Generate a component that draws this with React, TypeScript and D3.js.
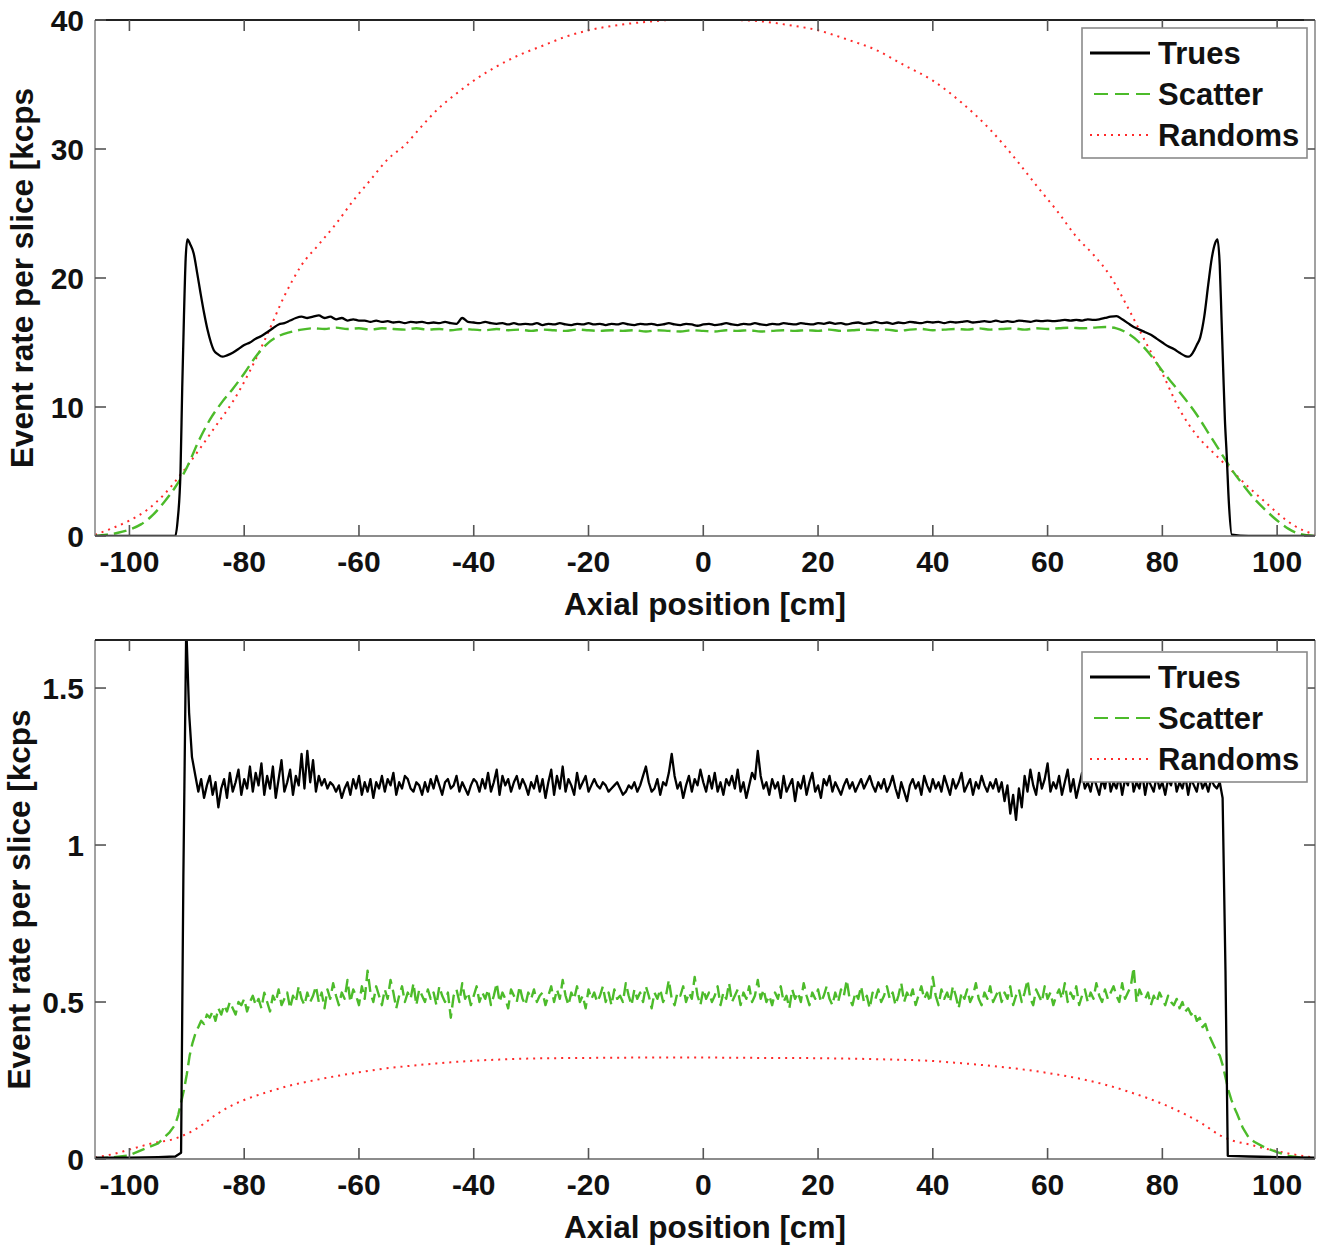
import React from 'react';
import * as d3 from 'd3';

// ---------- data ----------
const X_DOMAIN: [number, number] = [-106, 106.6];
const X_TICKS = [-100, -80, -60, -40, -20, 0, 20, 40, 60, 80, 100];
const TOP_Y_TICKS = [0, 10, 20, 30, 40];
const BOTTOM_Y_TICKS = [0, 0.5, 1, 1.5];
const SERIES_NAMES = ['Trues', 'Scatter', 'Randoms'];
const X_LABEL = 'Axial position [cm]';
const Y_LABEL = 'Event rate per slice [kcps';

// top panel
const TOP_TRUES_LEFT: [number, number][] = [
  [-106, 0], [-100, 0], [-95, 0], [-92, 0], [-91.6, 1.2], [-91.1, 5], [-90.8, 11.5], [-90.5, 17],
  [-90.2, 21.5], [-89.9, 23], [-89.4, 22.6], [-88.8, 21.9], [-88.2, 20.4], [-87.6, 18.8], [-87, 17.3],
  [-86.4, 16], [-85.8, 15], [-85.3, 14.4], [-84.6, 14.1], [-83.8, 13.9], [-83, 14.0], [-82, 14.2],
  [-81, 14.5], [-80, 14.8], [-79, 15.0], [-78, 15.3], [-77, 15.5], [-76, 15.8], [-75, 16.1], [-74, 16.4],
  [-73, 16.5], [-72, 16.7], [-71, 16.9], [-70, 17.0], [-69, 16.9], [-68, 17.0], [-67, 17.1], [-66, 16.9],
  [-65, 17.0], [-64, 16.8], [-63, 16.9], [-62, 16.7], [-61, 16.8], [-60, 16.7],
];
// one value per cm, -59 … 68
const TOP_TRUES_PLATEAU = [
  16.7, 16.6, 16.7, 16.6, 16.65, 16.55, 16.6, 16.5, 16.6, 16.55, 16.6, 16.5, 16.55, 16.5, 16.6, 16.5, 16.45, 16.9, 16.6,
  16.55, 16.5, 16.6, 16.5, 16.45, 16.5, 16.4, 16.5, 16.4, 16.45, 16.4, 16.5, 16.35, 16.45, 16.4, 16.5, 16.4, 16.35, 16.45, 16.4,
  16.5, 16.4, 16.45, 16.35, 16.45, 16.4, 16.5, 16.4, 16.35, 16.45, 16.4, 16.45, 16.35, 16.4, 16.5, 16.4, 16.35, 16.45, 16.4, 16.3,
  16.4, 16.45, 16.35, 16.4, 16.5, 16.4, 16.35, 16.45, 16.4, 16.5, 16.4, 16.35, 16.45, 16.4, 16.5, 16.45, 16.4, 16.5, 16.45, 16.4,
  16.5, 16.45, 16.55, 16.45, 16.5, 16.4, 16.5, 16.55, 16.45, 16.5, 16.6, 16.5, 16.55, 16.45, 16.55, 16.5, 16.6, 16.55, 16.5, 16.6,
  16.55, 16.6, 16.5, 16.6, 16.55, 16.6, 16.65, 16.55, 16.6, 16.65, 16.6, 16.7, 16.6, 16.65, 16.6, 16.7, 16.65, 16.6, 16.7, 16.65,
  16.7, 16.65, 16.7, 16.75, 16.7, 16.75, 16.7, 16.8, 16.75,
];
const TOP_TRUES_RIGHT: [number, number][] = [
  [69, 16.8], [70, 16.9], [71, 17.0], [72, 17.05], [73, 16.8], [74, 16.5], [75, 16.2], [76, 16.0], [77, 15.8],
  [78, 15.6], [79, 15.3], [80, 15.0], [81, 14.7], [82, 14.5], [83, 14.2], [84, 13.95], [84.6, 13.9], [85.3, 14.2],
  [86, 14.8], [86.6, 15.4], [87.3, 17.0], [88, 19.5], [88.6, 21.5], [89.2, 22.7], [89.6, 23], [90, 21],
  [90.3, 17], [90.6, 12.9], [90.9, 9], [91.2, 6.4], [91.6, 2.5], [92.1, 0.1], [95, 0], [100, 0], [106.6, 0],
];
const TOP_SCATTER: [number, number][] = [
  [-106, 0], [-104, 0.1], [-102, 0.25], [-100, 0.5], [-98, 0.9], [-96, 1.6], [-94, 2.6], [-92, 3.8], [-90, 5.3],
  [-88, 7.3], [-86, 9], [-84, 10.3], [-82, 11.4], [-80, 12.6], [-78, 13.9], [-76, 14.9], [-74, 15.5], [-72, 15.8],
  [-70, 16.0], [-68, 16.1], [-66, 16.05], [-64, 16.15], [-62, 16.05], [-60, 16.1], [-58, 16.0], [-56, 16.1],
  [-54, 16.05], [-52, 16.0], [-50, 16.1], [-48, 16.0], [-46, 16.05], [-44, 15.95], [-42, 16.05], [-40, 16.0],
  [-38, 15.95], [-36, 16.05], [-34, 15.95], [-32, 16.0], [-30, 15.9], [-28, 16.0], [-26, 15.95], [-24, 15.9],
  [-22, 16.0], [-20, 15.95], [-18, 15.9], [-16, 15.95], [-14, 15.9], [-12, 15.95], [-10, 15.85], [-8, 15.95],
  [-6, 15.9], [-4, 15.85], [-2, 15.95], [0, 15.9], [2, 15.85], [4, 15.95], [6, 15.9], [8, 15.95], [10, 15.85],
  [12, 15.9], [14, 15.95], [16, 15.9], [18, 15.95], [20, 15.9], [22, 16.0], [24, 15.9], [26, 15.95], [28, 16.0],
  [30, 15.95], [32, 16.0], [34, 15.9], [36, 16.0], [38, 16.05], [40, 15.95], [42, 16.0], [44, 16.05], [46, 16.0],
  [48, 16.1], [50, 16.0], [52, 16.05], [54, 16.1], [56, 16.0], [58, 16.1], [60, 16.05], [62, 16.1], [64, 16.15],
  [66, 16.1], [68, 16.15], [70, 16.2], [72, 16.1], [74, 15.7], [76, 15.0], [78, 14.0], [80, 12.8], [82, 11.7],
  [84, 10.6], [86, 9.4], [88, 8.0], [90, 6.6], [92, 5.2], [94, 4.0], [96, 2.9], [98, 2.0], [100, 1.2], [102, 0.55],
  [104, 0.15], [106.6, 0],
];
const TOP_RANDOMS: [number, number][] = [
  [-106, 0.1], [-103, 0.6], [-100, 1.2], [-97, 2.0], [-94, 3.2], [-91, 4.8], [-88, 6.6], [-85, 8.5], [-82, 10.4],
  [-79, 12.8], [-76, 15.6], [-73, 18.6], [-70, 21], [-67, 22.6], [-64, 24.2], [-61, 26], [-58, 27.6], [-55, 29.2],
  [-52, 30.3], [-49, 31.8], [-46, 33.2], [-43, 34.3], [-40, 35.3], [-36, 36.4], [-32, 37.3], [-28, 38], [-24, 38.7],
  [-20, 39.2], [-15, 39.6], [-10, 39.85], [-5, 40], [0, 40], [5, 40], [10, 39.9], [15, 39.6], [20, 39.2], [25, 38.5],
  [30, 37.7], [35, 36.5], [40, 35.3], [45, 33.6], [50, 31.5], [55, 28.9], [58, 27.2], [62, 25], [65, 23.2],
  [68, 21.8], [71, 20.1], [74, 17.7], [77, 15.1], [80, 12.6], [83, 9.8], [86, 7.8], [89, 6.4], [92, 5.1],
  [95, 3.8], [98, 2.6], [100, 1.8], [103, 0.8], [106.6, 0.1],
];

// bottom panel
const BOTTOM_TRUES_LEFT: [number, number][] = [
  [-106, 0.004], [-100, 0.004], [-95, 0.006], [-92, 0.008], [-91, 0.02], [-90.6, 0.9], [-90.1, 1.7],
  [-89.6, 1.42], [-89.1, 1.28],
];
// one value per half cm, -88.5 … 90.5
const BOTTOM_TRUES_PLATEAU = [
  1.22, 1.17, 1.21, 1.15, 1.19, 1.22, 1.16, 1.20, 1.12, 1.18, 1.21, 1.15, 1.23, 1.17, 1.20, 1.24, 1.16, 1.21, 1.18, 1.25,
  1.17, 1.23, 1.19, 1.26, 1.16, 1.22, 1.18, 1.25, 1.15, 1.21, 1.27, 1.17, 1.20, 1.24, 1.16, 1.22, 1.19, 1.29, 1.18, 1.30,
  1.20, 1.27, 1.17, 1.22, 1.19, 1.21, 1.18, 1.20, 1.19, 1.17, 1.19, 1.15, 1.18, 1.20, 1.16, 1.21, 1.18, 1.22, 1.16, 1.20,
  1.17, 1.21, 1.15, 1.20, 1.18, 1.22, 1.17, 1.21, 1.19, 1.23, 1.16, 1.20, 1.18, 1.22, 1.21, 1.18, 1.17, 1.20, 1.19, 1.16,
  1.20, 1.17, 1.21, 1.18, 1.22, 1.19, 1.16, 1.20, 1.21, 1.18, 1.19, 1.22, 1.17, 1.20, 1.18, 1.16, 1.19, 1.21, 1.20, 1.17,
  1.21, 1.18, 1.23, 1.17, 1.20, 1.24, 1.16, 1.22, 1.19, 1.21, 1.17, 1.20, 1.22, 1.18, 1.21, 1.19, 1.16, 1.20, 1.18, 1.22,
  1.17, 1.21, 1.15, 1.20, 1.24, 1.16, 1.22, 1.18, 1.25, 1.17, 1.21, 1.19, 1.16, 1.23, 1.18, 1.20, 1.22, 1.17, 1.19, 1.21,
  1.19, 1.18, 1.20, 1.19, 1.17, 1.18, 1.19, 1.20, 1.18, 1.16, 1.17, 1.19, 1.18, 1.20, 1.17, 1.19, 1.22, 1.25, 1.20, 1.17,
  1.18, 1.21, 1.16, 1.20, 1.19, 1.23, 1.29, 1.22, 1.18, 1.20, 1.15, 1.19, 1.22, 1.17, 1.21, 1.19, 1.24, 1.20, 1.17, 1.22,
  1.18, 1.23, 1.17, 1.20, 1.16, 1.21, 1.19, 1.22, 1.18, 1.24, 1.17, 1.20, 1.15, 1.19, 1.23, 1.21, 1.30, 1.22, 1.18, 1.20,
  1.16, 1.21, 1.18, 1.20, 1.15, 1.22, 1.17, 1.19, 1.21, 1.14, 1.20, 1.18, 1.22, 1.16, 1.20, 1.23, 1.17, 1.19, 1.15, 1.21,
  1.19, 1.22, 1.17, 1.20, 1.18, 1.16, 1.19, 1.21, 1.18, 1.20, 1.17, 1.19, 1.21, 1.18, 1.20, 1.22, 1.19, 1.17, 1.20, 1.18,
  1.21, 1.17, 1.19, 1.22, 1.18, 1.15, 1.20, 1.17, 1.14, 1.19, 1.21, 1.18, 1.20, 1.16, 1.22, 1.19, 1.17, 1.21, 1.18, 1.20,
  1.17, 1.22, 1.19, 1.16, 1.21, 1.18, 1.20, 1.23, 1.17, 1.19, 1.21, 1.16, 1.20, 1.18, 1.22, 1.19, 1.17, 1.20, 1.18, 1.21,
  1.17, 1.20, 1.14, 1.19, 1.10, 1.16, 1.08, 1.18, 1.12, 1.22, 1.17, 1.24, 1.19, 1.16, 1.23, 1.18, 1.21, 1.26, 1.17, 1.20,
  1.18, 1.22, 1.16, 1.20, 1.24, 1.17, 1.21, 1.15, 1.19, 1.23, 1.18, 1.20, 1.17, 1.22, 1.19, 1.16, 1.21, 1.18, 1.24, 1.17,
  1.20, 1.18, 1.22, 1.16, 1.21, 1.19, 1.25, 1.17, 1.20, 1.18, 1.23, 1.16, 1.21, 1.19, 1.17, 1.22, 1.18, 1.20, 1.16, 1.21,
  1.19, 1.23, 1.17, 1.20, 1.18, 1.22, 1.16, 1.21, 1.19, 1.17, 1.22, 1.18, 1.20, 1.17, 1.21, 1.19, 1.18, 1.20, 1.15,
];
const BOTTOM_TRUES_RIGHT: [number, number][] = [
  [91.0, 0.6], [91.4, 0.01], [95, 0.008], [100, 0.006], [106.6, 0.004],
];
const BOTTOM_SCATTER_LEFT: [number, number][] = [
  [-106, 0], [-103, 0.005], [-100, 0.012], [-97, 0.035], [-95, 0.05], [-93, 0.085], [-92, 0.11], [-91.5, 0.14],
  [-91, 0.18], [-90.5, 0.22], [-90, 0.27], [-89.5, 0.33], [-89, 0.37], [-88.5, 0.40],
];
// one value per half cm, -88.0 … 88.0
const BOTTOM_SCATTER_PLATEAU = [
  0.42, 0.44, 0.43, 0.46, 0.45, 0.47, 0.44, 0.48, 0.46, 0.49, 0.47, 0.50, 0.48, 0.46, 0.50, 0.49, 0.51, 0.47, 0.50, 0.52,
  0.49, 0.51, 0.48, 0.53, 0.50, 0.47, 0.52, 0.50, 0.54, 0.49, 0.51, 0.53, 0.48, 0.52, 0.50, 0.55, 0.51, 0.49, 0.53, 0.50,
  0.52, 0.55, 0.50, 0.53, 0.48, 0.54, 0.51, 0.56, 0.52, 0.49, 0.53, 0.51, 0.57, 0.50, 0.54, 0.52, 0.49, 0.55, 0.51, 0.60,
  0.53, 0.50, 0.55, 0.52, 0.49, 0.54, 0.51, 0.57, 0.53, 0.48, 0.52, 0.55, 0.50, 0.53, 0.51, 0.56, 0.49, 0.54, 0.52, 0.50,
  0.54, 0.51, 0.53, 0.49, 0.55, 0.52, 0.50, 0.53, 0.45, 0.52, 0.54, 0.50, 0.56, 0.51, 0.53, 0.49, 0.52, 0.55, 0.50, 0.53,
  0.51, 0.54, 0.49, 0.52, 0.56, 0.50, 0.53, 0.51, 0.48, 0.54, 0.52, 0.50, 0.55, 0.51, 0.49, 0.53, 0.51, 0.54, 0.50, 0.52,
  0.53, 0.49, 0.52, 0.55, 0.50, 0.54, 0.51, 0.57, 0.52, 0.49, 0.53, 0.51, 0.55, 0.50, 0.52, 0.48, 0.54, 0.51, 0.53, 0.50,
  0.52, 0.55, 0.50, 0.53, 0.49, 0.54, 0.51, 0.52, 0.50, 0.56, 0.52, 0.49, 0.54, 0.51, 0.53, 0.50, 0.55, 0.52, 0.48, 0.53,
  0.51, 0.54, 0.50, 0.52, 0.57, 0.51, 0.49, 0.53, 0.52, 0.55, 0.50, 0.53, 0.51, 0.58, 0.52, 0.49, 0.54, 0.51, 0.53, 0.50,
  0.52, 0.55, 0.49, 0.53, 0.51, 0.56, 0.50, 0.52, 0.54, 0.49, 0.53, 0.51, 0.55, 0.50, 0.52, 0.57, 0.51, 0.54, 0.50, 0.52,
  0.49, 0.53, 0.51, 0.55, 0.50, 0.52, 0.48, 0.54, 0.51, 0.53, 0.50, 0.56, 0.52, 0.49, 0.53, 0.51, 0.54, 0.50, 0.52, 0.55,
  0.51, 0.49, 0.53, 0.50, 0.54, 0.52, 0.57, 0.51, 0.49, 0.53, 0.51, 0.55, 0.50, 0.52, 0.48, 0.53, 0.51, 0.54, 0.50, 0.52,
  0.55, 0.51, 0.53, 0.49, 0.52, 0.56, 0.50, 0.53, 0.51, 0.54, 0.49, 0.52, 0.55, 0.51, 0.53, 0.50, 0.58, 0.52, 0.49, 0.54,
  0.51, 0.53, 0.50, 0.55, 0.52, 0.48, 0.53, 0.51, 0.54, 0.50, 0.52, 0.56, 0.51, 0.49, 0.53, 0.51, 0.55, 0.50, 0.52, 0.54,
  0.50, 0.53, 0.51, 0.55, 0.49, 0.52, 0.54, 0.50, 0.53, 0.57, 0.51, 0.49, 0.54, 0.52, 0.50, 0.55, 0.51, 0.53, 0.49, 0.52,
  0.54, 0.51, 0.56, 0.50, 0.53, 0.51, 0.55, 0.49, 0.52, 0.54, 0.50, 0.53, 0.51, 0.56, 0.52, 0.50, 0.54, 0.51, 0.53, 0.55,
  0.52, 0.50, 0.56, 0.51, 0.53, 0.55, 0.61, 0.50, 0.54, 0.52, 0.51, 0.53, 0.49, 0.52, 0.50, 0.53, 0.51, 0.49, 0.52, 0.50,
  0.49, 0.51, 0.48, 0.50, 0.47, 0.48, 0.46, 0.47, 0.44, 0.45, 0.42, 0.43, 0.40,
];
const BOTTOM_SCATTER_RIGHT: [number, number][] = [
  [88.5, 0.38], [89, 0.36], [89.5, 0.34], [90, 0.33], [90.5, 0.3], [91, 0.26], [91.5, 0.22], [92, 0.19],
  [92.5, 0.165], [93, 0.145], [94, 0.1], [95, 0.07], [96, 0.055], [98, 0.035], [100, 0.022], [102, 0.01],
  [104, 0.005], [106.6, 0.002],
];
const BOTTOM_RANDOMS: [number, number][] = [
  [-106, 0.005], [-103, 0.015], [-100, 0.03], [-96, 0.05], [-92, 0.065], [-91, 0.072], [-88, 0.1], [-85, 0.14],
  [-82, 0.172], [-80, 0.188], [-76, 0.213], [-72, 0.234], [-68, 0.25], [-64, 0.264], [-60, 0.276], [-56, 0.287],
  [-52, 0.295], [-48, 0.302], [-44, 0.308], [-40, 0.313], [-35, 0.317], [-30, 0.32], [-20, 0.322], [-10, 0.323],
  [0, 0.323], [10, 0.322], [20, 0.321], [30, 0.318], [40, 0.312], [45, 0.305], [50, 0.297], [55, 0.287],
  [60, 0.274], [65, 0.258], [70, 0.237], [74, 0.215], [78, 0.19], [81, 0.168], [84, 0.142], [87, 0.112],
  [90, 0.076], [92, 0.06], [95, 0.047], [98, 0.033], [101, 0.021], [104, 0.011], [106.6, 0.005],
];

// ---------- helpers ----------
const halfCm = (start: number, values: number[]): [number, number][] =>
  values.map((v, i) => [start + i * 0.5, v]);
const perCm = (start: number, values: number[]): [number, number][] =>
  values.map((v, i) => [start + i, v]);

const TOP_TRUES = [...TOP_TRUES_LEFT, ...perCm(-59, TOP_TRUES_PLATEAU), ...TOP_TRUES_RIGHT];
const BOTTOM_TRUES = [...BOTTOM_TRUES_LEFT, ...halfCm(-88.5, BOTTOM_TRUES_PLATEAU), ...BOTTOM_TRUES_RIGHT];
const BOTTOM_SCATTER = [...BOTTOM_SCATTER_LEFT, ...halfCm(-88, BOTTOM_SCATTER_PLATEAU), ...BOTTOM_SCATTER_RIGHT];

const FONT = "'Liberation Sans', Arial, Helvetica, sans-serif";
const GREEN = '#4cbb2a';
const RED = '#ff2a2a';
const STYLES = [
  { color: '#000', width: 2.3, dash: null as string | null },
  { color: GREEN, width: 2.4, dash: '13 6' },
  { color: RED, width: 2, dash: '2 5' },
];

const LEFT = 95;
const RIGHT = 1315;

interface PanelProps {
  id: string;
  top: number;
  bottom: number;
  yMax: number;
  yTicks: number[];
  series: [number, number][][];
  smooth: boolean[];
  labelX: number;
  legendTop: number;
}

function Panel({ id, top, bottom, yMax, yTicks, series, smooth, labelX, legendTop }: PanelProps) {
  const x = d3.scaleLinear().domain(X_DOMAIN).range([LEFT, RIGHT]);
  const y = d3.scaleLinear().domain([0, yMax]).range([bottom, top]);
  const mk = (s: boolean) =>
    d3
      .line<[number, number]>()
      .x((d) => x(d[0]))
      .y((d) => y(d[1]))
      .curve(s ? d3.curveMonotoneX : d3.curveLinear);
  const tickLen = 11;
  const legendLeft = 1082;
  const legendRight = 1307;
  const rowGap = 41;
  return (
    <g>
      <defs>
        <clipPath id={`clip-${id}`}>
          <rect x={LEFT} y={top} width={RIGHT - LEFT} height={bottom - top} />
        </clipPath>
      </defs>
      <g clipPath={`url(#clip-${id})`}>
        {[2, 1, 0].map((i) => (
          <path
            key={i}
            d={mk(smooth[i])(series[i]) || ''}
            fill="none"
            stroke={STYLES[i].color}
            strokeWidth={STYLES[i].width}
            strokeDasharray={STYLES[i].dash || undefined}
            strokeLinejoin="round"
          />
        ))}
      </g>
      {/* frame */}
      <line x1={LEFT} x2={LEFT} y1={top} y2={bottom} stroke="#8a8a8a" strokeWidth={1.6} />
      <line x1={RIGHT} x2={RIGHT} y1={top} y2={bottom} stroke="#8a8a8a" strokeWidth={1.6} />
      <line x1={LEFT} x2={RIGHT} y1={bottom} y2={bottom} stroke="#666" strokeWidth={1.6} />
      <line x1={LEFT} x2={RIGHT} y1={top} y2={top} stroke="#222" strokeWidth={2.2} />
      {/* x ticks */}
      {X_TICKS.map((t) => (
        <g key={t}>
          <line x1={x(t)} x2={x(t)} y1={bottom} y2={bottom - tickLen} stroke="#555" strokeWidth={1.6} />
          <line x1={x(t)} x2={x(t)} y1={top} y2={top + tickLen} stroke="#555" strokeWidth={1.6} />
          <text
            x={x(t)}
            y={bottom + 36}
            textAnchor="middle"
            fontFamily={FONT}
            fontWeight="bold"
            fontSize={30}
            fill="#111"
          >
            {t}
          </text>
        </g>
      ))}
      {/* y ticks */}
      {yTicks.map((t) => (
        <g key={t}>
          <line x1={LEFT} x2={LEFT + tickLen} y1={y(t)} y2={y(t)} stroke="#555" strokeWidth={1.6} />
          <line x1={RIGHT} x2={RIGHT - tickLen} y1={y(t)} y2={y(t)} stroke="#555" strokeWidth={1.6} />
          <text
            x={84}
            y={y(t)}
            dy="0.36em"
            textAnchor="end"
            fontFamily={FONT}
            fontWeight="bold"
            fontSize={30}
            fill="#111"
          >
            {String(t)}
          </text>
        </g>
      ))}
      {/* axis labels */}
      <text
        x={(x(X_DOMAIN[0]) + x(X_DOMAIN[1])) / 2}
        y={bottom + 79}
        textAnchor="middle"
        fontFamily={FONT}
        fontWeight="bold"
        fontSize={31.5}
        fill="#111"
      >
        {X_LABEL}
      </text>
      <text
        transform={`translate(${labelX},${(top + bottom) / 2}) rotate(-90)`}
        textAnchor="middle"
        fontFamily={FONT}
        fontWeight="bold"
        fontSize={31.5}
        fill="#111"
      >
        {Y_LABEL}
      </text>
      {/* legend */}
      <rect
        x={legendLeft}
        y={legendTop}
        width={legendRight - legendLeft}
        height={130}
        fill="#fff"
        stroke="#8a8a8a"
        strokeWidth={1.6}
      />
      {SERIES_NAMES.map((name, i) => {
        const cy = legendTop + 25 + i * rowGap;
        return (
          <g key={name}>
            <line
              x1={1090}
              x2={1150}
              y1={cy}
              y2={cy}
              stroke={STYLES[i].color}
              strokeWidth={i === 0 ? 2.8 : 2.2}
              strokeDasharray={i === 1 ? '14 7' : i === 2 ? '2 5' : undefined}
              strokeDashoffset={i === 1 ? -4 : 0}
            />
            <text
              x={1158}
              y={cy}
              dy="0.36em"
              fontFamily={FONT}
              fontWeight="bold"
              fontSize={31}
              fill="#111"
            >
              {name}
            </text>
          </g>
        );
      })}
    </g>
  );
}

export default function App() {
  return (
    <svg
      width={1326}
      height={1248}
      style={{ position: 'absolute', left: 0, top: 0, background: '#fff' }}
    >
      <rect x={0} y={0} width={1326} height={1248} fill="#fff" />
      <Panel
        id="top"
        top={20}
        bottom={536}
        yMax={40}
        yTicks={TOP_Y_TICKS}
        series={[TOP_TRUES, TOP_SCATTER, TOP_RANDOMS]}
        smooth={[true, true, true]}
        labelX={33}
        legendTop={28}
      />
      <Panel
        id="bottom"
        top={640}
        bottom={1159}
        yMax={1.653}
        yTicks={BOTTOM_Y_TICKS}
        series={[BOTTOM_TRUES, BOTTOM_SCATTER, BOTTOM_RANDOMS]}
        smooth={[false, false, true]}
        labelX={30}
        legendTop={652}
      />
    </svg>
  );
}
